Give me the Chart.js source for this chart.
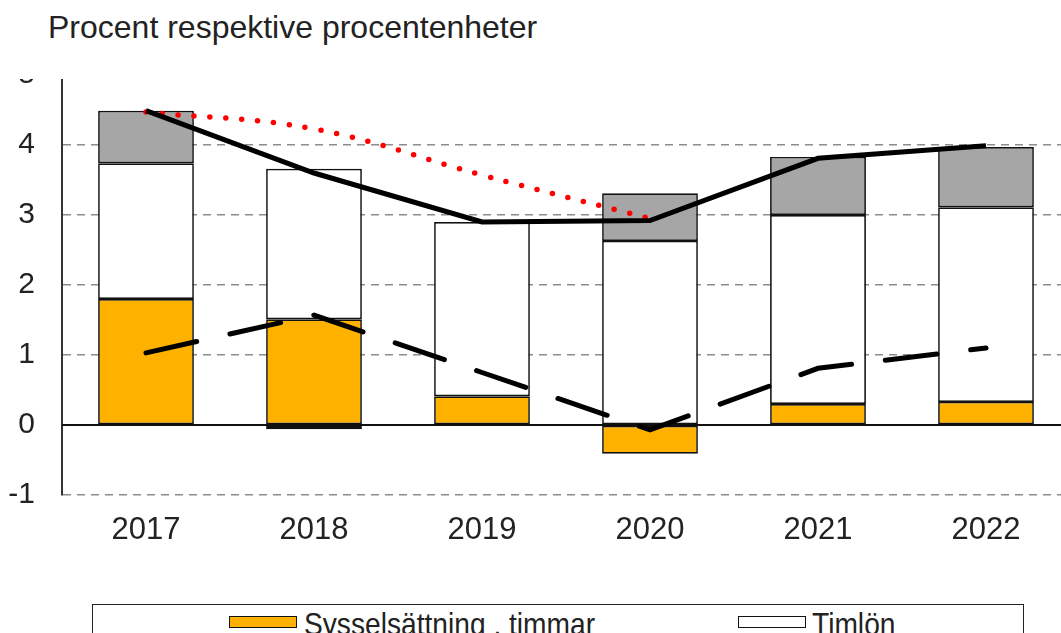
<!DOCTYPE html>
<html>
<head>
<meta charset="utf-8">
<script src="https://cdn.jsdelivr.net/npm/chart.js@4/dist/chart.umd.min.js"></script>
<style>
  body { margin: 0; overflow: hidden; background: #fff; font-family: "Liberation Sans", Arial, sans-serif; }
  #wrap { position: absolute; left: 0; top: 0; width: 1075px; height: 633px; }
  #cover { position: absolute; left: 0; top: 0; width: 1061px; height: 79px; background: #fff; }
  #title { position: absolute; left: 48px; top: 11px; font-size: 32px; line-height: 1; color: #222; white-space: nowrap; }
  #legend { position: absolute; left: 92px; top: 604px; width: 930px; height: 60px; border: 1.5px solid #222; background: #fff; }
  .sw { position: absolute; top: 11px; width: 66px; height: 10px; border: 1.5px solid #111; }
  .lt { position: absolute; top: 3px; font-size: 32px; line-height: 1; color: #222; white-space: nowrap; transform: scaleX(0.88); transform-origin: left top; }
</style>
</head>
<body>
<div id="wrap"><canvas id="c" width="1075" height="633"></canvas></div>
<div id="cover"><div id="title">Procent respektive procentenheter</div></div>
<div id="legend">
  <div class="sw" style="left:136px;background:#FFB100"></div>
  <div class="lt" style="left:211px">Sysselsättning , timmar</div>
  <div class="sw" style="left:645px;background:#fff"></div>
  <div class="lt" style="left:719px">Timlön</div>
</div>
<script>
// Categories
var years = ['2017', '2018', '2019', '2020', '2021', '2022'];

// Stacked bar components
var sysselsattning = [1.80, 1.51, 0.41, -0.41, 0.30, 0.33];
var timlon = [1.94, 2.15, 2.49, 2.63, 2.70, 2.78];
var ovrigt = [0.75, -0.06, null, 0.68, 0.83, 0.86];

// Line series
var solidLine = [4.49, 3.60, 2.90, 2.92, 3.81, 3.99];
var dottedLine = [4.47, 4.23, 3.57, 2.95, null, null];
var dashedLine = [1.03, 1.57, 0.75, -0.07, 0.81, 1.10];

var yTicks = [-1, 0, 1, 2, 3, 4, 5];

// Solid zero line across the plot
var zeroLine = {
  id: 'zeroLine',
  beforeDatasetsDraw: function(chart) {
    var ctx = chart.ctx, area = chart.chartArea;
    var y0 = chart.scales.y.getPixelForValue(0);
    ctx.save();
    ctx.strokeStyle = '#111';
    ctx.lineWidth = 2;
    ctx.beginPath();
    ctx.moveTo(area.left, y0);
    ctx.lineTo(area.right, y0);
    ctx.stroke();
    ctx.restore();
  }
};

var barStyle = { type: 'bar', stack: 'bars', borderColor: '#111', borderWidth: 1.7, borderSkipped: false, order: 5 };

new Chart(document.getElementById('c'), {
  data: {
    labels: years,
    datasets: [
      Object.assign({ label: 'Sysselsättning , timmar', data: sysselsattning, backgroundColor: '#FFB100' }, barStyle),
      Object.assign({ label: 'Timlön', data: timlon, backgroundColor: '#FFFFFF' }, barStyle),
      Object.assign({ label: 'Övrigt', data: ovrigt, backgroundColor: '#A6A6A6' }, barStyle),
      { type: 'line', label: 'Prognos tidigare', data: dottedLine, stack: 'l1', order: 2,
        borderColor: '#FF0000', borderWidth: 5.5, borderDash: [0, 16], borderCapStyle: 'round',
        tension: 0.4, pointRadius: 0, fill: false },
      { type: 'line', label: 'Totalt', data: solidLine, stack: 'l2', order: 1,
        borderColor: '#000', borderWidth: 5, tension: 0, pointRadius: 0, fill: false },
      { type: 'line', label: 'Streckad', data: dashedLine, stack: 'l3', order: 1,
        borderColor: '#000', borderWidth: 5, borderDash: [52, 34], borderCapStyle: 'round',
        tension: 0, pointRadius: 0, fill: false }
    ]
  },
  options: {
    responsive: false,
    animation: false,
    layout: { padding: { top: 75, right: 5, left: 0, bottom: 0 } },
    datasets: { bar: { categoryPercentage: 0.57, barPercentage: 1 } },
    plugins: { legend: { display: false }, tooltip: { enabled: false }, title: { display: false } },
    scales: {
      x: {
        stacked: true,
        grid: { display: false, drawTicks: false },
        border: { display: false },
        ticks: { color: '#222', font: { family: 'Liberation Sans', size: 31 }, padding: 17, maxRotation: 0 },
        afterFit: function(s) { s.height = 138; }
      },
      y: {
        stacked: true,
        min: -1, max: 5,
        grid: { color: '#8c8c8c', lineWidth: 1.5, drawTicks: false },
        border: { display: true, color: '#333', width: 2, dash: [8, 6] },
        ticks: { stepSize: 1, color: '#222', font: { family: 'Liberation Sans', size: 30 }, padding: 27 },
        afterBuildTicks: function(s) { s.ticks = yTicks.map(function(v) { return { value: v }; }); },
        afterFit: function(s) { s.width = 62; }
      }
    }
  },
  plugins: [zeroLine]
});
</script>
</body>
</html>
